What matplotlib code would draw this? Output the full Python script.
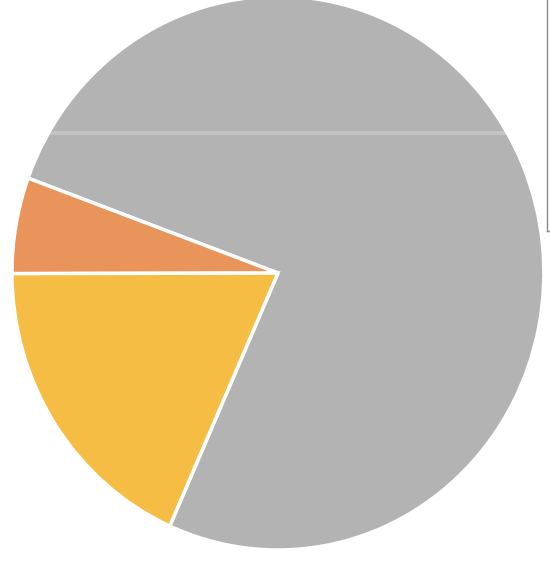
import matplotlib
matplotlib.use('Agg')
import matplotlib.pyplot as plt
from matplotlib.lines import Line2D

# slice shares (percent)
labels = ['Gray', 'Orange', 'Yellow']
shares = [76.1, 5.6, 18.3]
colors = ['#b3b3b3', '#e9945a', '#f6bd45']

fig = plt.figure(figsize=(5.5, 5.63), dpi=100)
ax = fig.add_axes([0, 0, 1, 1])
wedges, _ = ax.pie(shares, colors=colors, startangle=246, counterclock=True,
                   wedgeprops=dict(edgecolor='white', linewidth=2.5))
# scanned page is slightly stretched vertically
ax.set_aspect('auto')
ax.set_xlim(-1.045, 1.023)
ax.set_ylim(-1.047, 0.986)
ax.axis('off')

# faint scan streak across the gray slice
streak = ax.plot([-1.1, 1.1], [0.505, 0.505], color='white', lw=3, alpha=0.22)[0]
streak.set_clip_path(wedges[0])

# edge of the frame at the top right
fig.add_artist(Line2D([0.9945, 0.9945], [1.0, 0.59], color='#8a8a8a', lw=1))
fig.add_artist(Line2D([0.9945, 1.0], [0.59, 0.59], color='#8a8a8a', lw=1))

fig.savefig('out.png', dpi=100, facecolor='white')
